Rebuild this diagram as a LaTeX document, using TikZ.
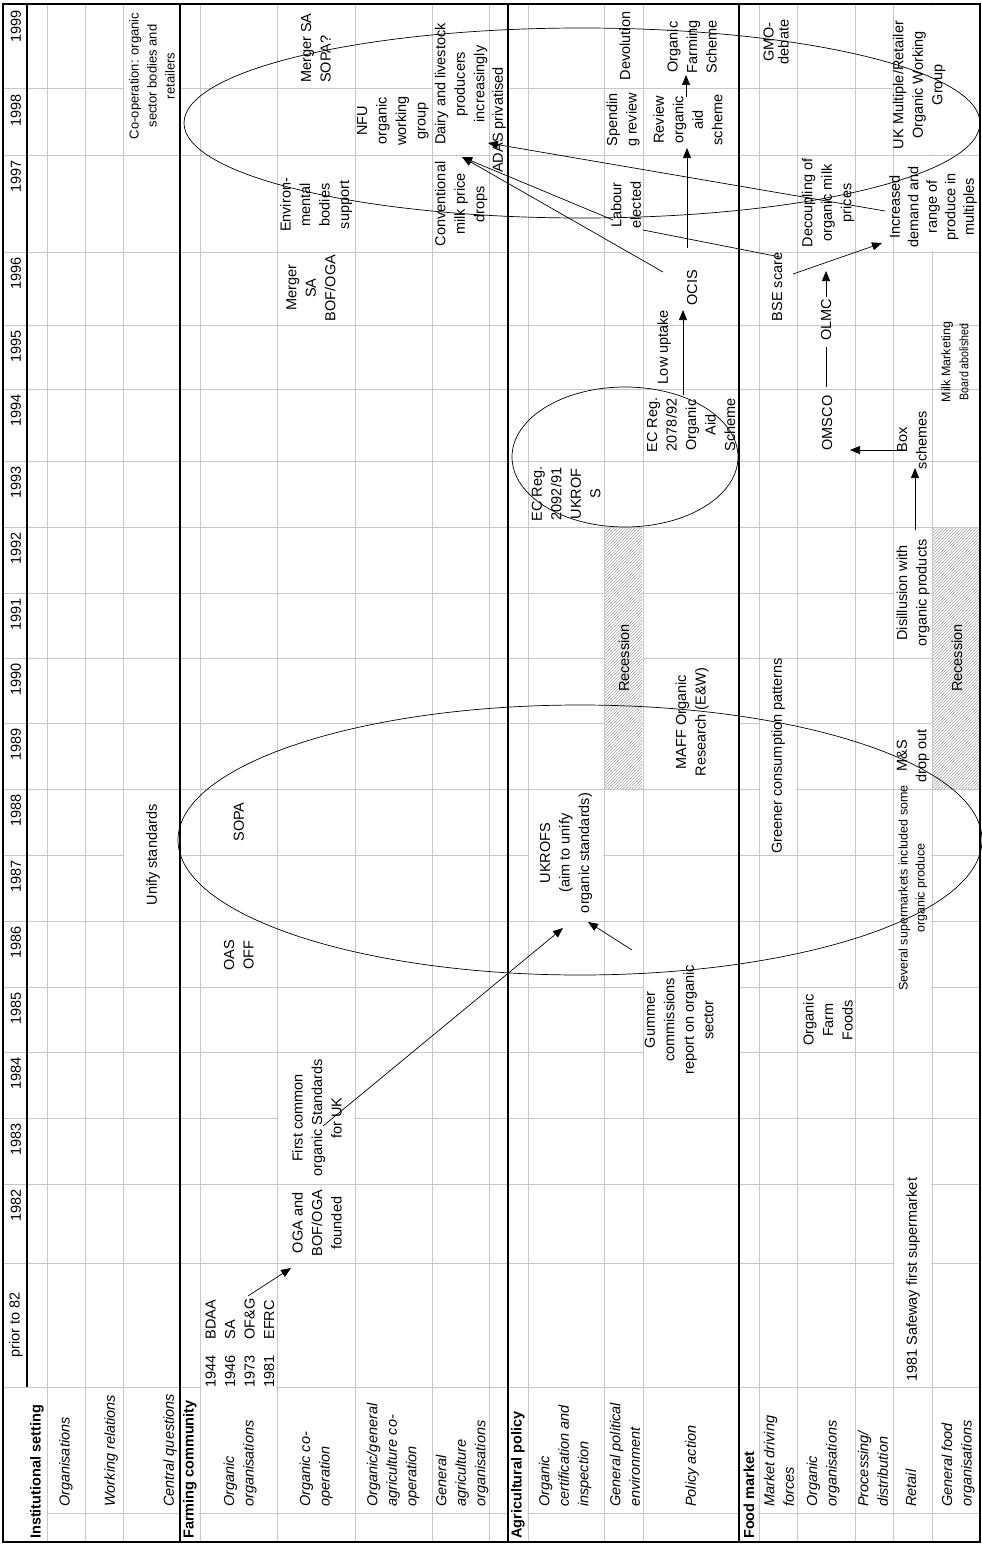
\documentclass[tikz,border=0pt]{standalone}
\usepackage{fontspec}
\setmainfont{Liberation Sans}
\usetikzlibrary{arrows.meta, patterns}

\newcommand{\cellfont}{\fontsize{14.5}{19.5}\selectfont}
\newcommand{\smallcellfont}{\fontsize{12.5}{17}\selectfont}

\tikzset{
  gridline/.style={draw=black!22, line width=1pt},
  secline/.style={draw=black, line width=1.3pt},
  cell/.style={rotate=90, align=center, inner sep=0pt, font=\cellfont},
  lcell/.style={rotate=90, align=left, anchor=west, inner sep=0pt, font=\cellfont},
  rowlabel/.style={lcell, font=\cellfont\itshape},
  seclabel/.style={lcell, font=\cellfont\bfseries},
  blank/.style={fill=white, draw=none},
  hatched/.style={preaction={fill=white}, pattern=north east lines, pattern color=black!35},
  arrowline/.style={draw=black, line width=0.7pt, -{Triangle[length=10pt,width=8pt]}},
  joinline/.style={draw=black, line width=0.7pt},
  ringline/.style={draw=black, line width=0.7pt}
}

\begin{document}
\begin{tikzpicture}[x=1pt, y=-1pt]
  \useasboundingbox (0,0) rectangle (982,1544);

  % grid of the sheet
  \foreach \x in {47,85,123,200,277,355,432,489,528,604,643,759,797,855,893,932}
    \draw[gridline] (\x,5) -- (\x,1542);
  \foreach \y in {89,155,252,325,389,461,527,593,658,723,789,855,921,987,1052,1118,1184,1263,1387}
    \draw[gridline] (3,\y) -- (980,\y);
  \draw[gridline] (27,1513) -- (980,1513);

  % merged and overflowing cells
  \fill[blank] (124,6) rectangle (179,154);
  \fill[blank] (124,790) rectangle (179,920);
  \fill[blank] (278,1053) rectangle (354,1183);
  \fill[blank] (201,1380) rectangle (276,1395);
  \fill[blank] (433,6) rectangle (488,154);
  \fill[blank] (490,60) rectangle (507,180);
  \fill[blank] (529,790) rectangle (603,920);
  \fill[blank] (644,659) rectangle (738,788);
  \fill[blank] (644,922) rectangle (738,1117);
  \fill[blank] (760,659) rectangle (796,854);
  \fill[blank] (894,528) rectangle (931,657);
  \fill[blank] (894,790) rectangle (931,991);
  \fill[blank] (894,1176) rectangle (931,1386);
  \fill[blank] (894,156) rectangle (979,251);
  \fill[blank] (894,6) rectangle (979,154);
  \foreach \x in {28,181,509,740}
    \fill[blank] (\x,1388) rectangle (\x+18,1541);

  % recession bands
  \fill[hatched] (605,528) rectangle (642,788);
  \fill[hatched] (933,528) rectangle (979,788);

  % section borders and frame
  \draw[secline] (27,4) -- (27,1387);
  \foreach \x in {180,508,739}
    \draw[secline] (\x,4) -- (\x,1542);
  \draw[line width=2.5pt] (3,4) rectangle (980,1542);

  % years
  \foreach \yr/\yt in {1999/5,1998/89,1997/155,1996/252,1995/325,1994/389,1993/461,1992/527,1991/593,1990/658,1989/723,1988/789,1987/855,1986/921,1985/987,1984/1052,1983/1118,1982/1184}
    \node[cell, anchor=east] (y\yr) at (16,\yt+5) {\yr};
  \node[cell] (yprior) at (16,1325) {prior to 82};

  % row labels
  \node[seclabel] (linst) at (37,1539) {Institutional setting};
  \node[rowlabel] (lorg) at (66,1507) {Organisations};
  \node[rowlabel] (lwork) at (111,1507) {Working relations};
  \node[rowlabel] (lcentral) at (170,1507) {Central questions};
  \node[seclabel] (lfarm) at (190,1539) {Farming community};
  \node[rowlabel] (loo) at (240,1507) {Organic\\organisations};
  \node[rowlabel] (loco) at (316,1507) {Organic co-\\operation};
  \node[rowlabel] (logco) at (393,1507) {Organic/general\\agriculture co-\\operation};
  \node[rowlabel] (lgao) at (462,1507) {General\\agriculture\\organisations};
  \node[seclabel] (lagri) at (518,1539) {Agricultural policy};
  \node[rowlabel] (lcert) at (565,1507) {Organic\\certification and\\inspection};
  \node[rowlabel] (lpol) at (625,1507) {General political\\environment};
  \node[rowlabel] (lact) at (692,1507) {Policy action};
  \node[seclabel] (lfood) at (749,1539) {Food market};
  \node[rowlabel] (lmdf) at (779,1507) {Market driving\\forces};
  \node[rowlabel] (lfoo) at (823,1507) {Organic\\organisations};
  \node[rowlabel] (lproc) at (873,1507) {Processing/\\distribution};
  \node[rowlabel] (lretail) at (911,1507) {Retail};
  \node[rowlabel] (lgfo) at (958,1507) {General food\\organisations};

  % institutional setting
  \node[cell, font=\fontsize{13}{18}\selectfont] (coop) at (152,76) {Co-operation: organic\\sector bodies and\\retailers};
  \node[cell] (unify) at (153,855) {Unify standards};

  % farming community
  \node[lcell] (founders) at (240,1388) {1944\hspace{16pt}BDAA\\1946\hspace{16pt}SA\\1973\hspace{16pt}OF\&G\\1981\hspace{16pt}EFRC};
  \node[cell] (oasoff) at (239,955) {OAS\\OFF};
  \node[cell] (sopa) at (239,822) {SOPA};
  \node[cell] (ogafounded) at (317,1223) {OGA and\\BOF/OGA\\founded};
  \node[cell] (firstcommon) at (317,1118) {First common\\organic Standards\\for UK};
  \node[cell] (mergerbof) at (311,288) {Merger\\SA\\BOF/OGA};
  \node[cell] (environ) at (316,205) {Environ-\\mental\\bodies\\support};
  \node[lcell] (mergersopa) at (316,83) {Merger SA\\SOPA?};
  \node[cell] (nfu) at (393,121) {NFU\\organic\\working\\group};
  \node[cell] (conventional) at (461,204) {Conventional\\milk price\\drops};
  \node[cell] (dairy) at (461,84) {Dairy and livestock\\producers\\increasingly};
  \node[cell] (adas) at (499,120) {ADAS privatised};

  % agricultural policy
  \node[cell] (ukrofs) at (566,853) {UKROFS\\(aim to unify\\organic standards)};
  \node[cell] (ecreg91) at (566,494) {EC Reg.\\2092/91\\UKROF\\S};
  \node[cell] (recession1) at (624,658) {Recession};
  \node[cell] (labour) at (626,205) {Labour\\elected};
  \node[cell] (spending) at (623,120) {Spendin\\g review};
  \node[cell] (devolution) at (625,46) {Devolution};
  \node[cell] (gummer) at (679,1020) {Gummer\\commissions\\report on organic\\sector};
  \node[cell] (maff) at (692,722) {MAFF Organic\\Research (E\&W)};
  \node[cell] (ecreg92) at (691,425) {EC Reg.\\2078/92\\Organic\\Aid\\Scheme};
  \node[cell] (lowuptake) at (664,347) {Low uptake};
  \node[cell] (ocis) at (692,288) {OCIS};
  \node[cell] (review) at (688,120) {Review\\organic\\aid\\scheme};
  \node[cell] (ofs) at (692,47) {Organic\\Farming\\Scheme};

  % food market
  \node[cell] (bse) at (777,287) {BSE scare};
  \node[cell] (greener) at (778,756) {Greener consumption patterns};
  \node[cell, font=\fontsize{14.5}{15}\selectfont] (gmo) at (776,42) {GMO-\\debate};
  \node[cell] (omsco) at (827,423) {OMSCO};
  \node[cell] (olmc) at (826,320) {OLMC};
  \node[cell] (decoupling) at (828,203) {Decoupling of\\organic milk\\prices};
  \node[cell] (farmfoods) at (828,1020) {Organic\\Farm\\Foods};
  \node[cell] (boxschemes) at (912,440) {Box\\schemes};
  \node[cell] (disillusion) at (913,593) {Disillusion with\\organic products};
  \node[cell] (msdrop) at (913,756) {M\&S\\drop out};
  \node[cell, font=\smallcellfont] (several) at (913,888) {Several supermarkets included some\\organic produce};
  \node[lcell] (safeway) at (913,1382) {1981 Safeway first supermarket};
  \node[cell, font=\fontsize{14.5}{18.5}\selectfont] (increased) at (933,207) {Increased\\demand and\\range of\\produce in\\multiples};
  \node[cell] (ukmultiple) at (919,85) {UK Multiple/Retailer\\Organic Working\\Group};
  \node[cell, font=\fontsize{12.5}{18}\selectfont] (milkboard) at (955,362) {Milk Marketing\\\scalebox{0.85}[1]{Board abolished}};
  \node[cell] (recession2) at (957,658) {Recession};

  % ovals round the two phases
  \draw[ringline] (582,123) ellipse [x radius=398, y radius=95];
  \draw[ringline] (580,840) ellipse [x radius=402, y radius=135];
  \draw[ringline] (625,457) ellipse [x radius=113, y radius=70];

  % ends of the connectors
  \coordinate (founders-end) at (248,1296);
  \coordinate (oga-tip) at (291,1268);
  \coordinate (standards-end) at (323,1126);
  \coordinate (ukrofs-tip1) at (563,928);
  \coordinate (gummer-end) at (632,950);
  \coordinate (ukrofs-tip2) at (588,922);
  \coordinate (ecreg-end) at (683,395);
  \coordinate (ocis-tip) at (683,310);
  \coordinate (ocis-up) at (687,248);
  \coordinate (review-tip) at (687,148);
  \coordinate (review-end) at (686,97);
  \coordinate (ofs-tip) at (686,75);
  \coordinate (ocis-left) at (663,272);
  \coordinate (milk-tip) at (462,157);
  \coordinate (labour-left) at (613,220);
  \coordinate (increased-left) at (885,211);
  \coordinate (adas-tip) at (488,143);
  \coordinate (labour-right) at (643,230);
  \coordinate (bse-left) at (780,257);
  \coordinate (bse-right) at (793,274);
  \coordinate (increased-tip) at (882,243);
  \coordinate (olmc-top) at (826,297);
  \coordinate (decoupling-tip) at (826,271);
  \coordinate (olmc-bottom) at (826,347);
  \coordinate (omsco-top) at (826,387);
  \coordinate (box-end) at (905,450);
  \coordinate (omsco-tip) at (850,450);
  \coordinate (disillusion-end) at (915,530);
  \coordinate (box-tip) at (915,468);

  % connectors
  \draw[arrowline] (founders-end) -- (oga-tip);
  \draw[arrowline] (standards-end) -- (ukrofs-tip1);
  \draw[arrowline] (gummer-end) -- (ukrofs-tip2);
  \draw[arrowline] (ecreg-end) -- (ocis-tip);
  \draw[arrowline] (ocis-up) -- (review-tip);
  \draw[arrowline] (review-end) -- (ofs-tip);
  \draw[arrowline] (ocis-left) -- (milk-tip);
  \draw[arrowline] (labour-left) -- (milk-tip);
  \draw[arrowline] (increased-left) -- (adas-tip);
  \draw[joinline] (labour-right) -- (bse-left);
  \draw[arrowline] (bse-right) -- (increased-tip);
  \draw[arrowline] (olmc-top) -- (decoupling-tip);
  \draw[joinline] (olmc-bottom) -- (omsco-top);
  \draw[arrowline] (box-end) -- (omsco-tip);
  \draw[arrowline] (disillusion-end) -- (box-tip);
\end{tikzpicture}
\end{document}
